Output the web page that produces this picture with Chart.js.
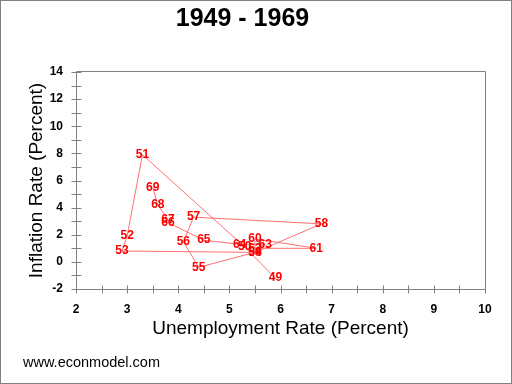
<!DOCTYPE html>
<html>
<head>
<meta charset="utf-8">
<script src="https://cdn.jsdelivr.net/npm/chart.js@4/dist/chart.umd.min.js"></script>
<style>
  html, body { margin: 0; padding: 0; background: #ffffff; }
  canvas { display: block; }
</style>
</head>
<body>
<canvas id="c" width="512" height="384"></canvas>
<script>
const years = ['49','50','51','52','53','54','55','56','57','58','59','60','61','62','63','64','65','66','67','68','69'];
const unemployment = [5.9, 5.3, 3.3, 3.0, 2.9, 5.5, 4.4, 4.1, 4.3, 6.8, 5.5, 5.5, 6.7, 5.5, 5.7, 5.2, 4.5, 3.8, 3.8, 3.6, 3.5];
const inflation = [-1.2, 1.1, 7.9, 1.9, 0.8, 0.7, -0.4, 1.5, 3.3, 2.8, 0.7, 1.7, 1.0, 1.0, 1.3, 1.3, 1.6, 2.9, 3.1, 4.2, 5.5];
const xTicks = [2, 3, 4, 5, 6, 7, 8, 9, 10];
const yTicks = [-2, 0, 2, 4, 6, 8, 10, 12, 14];

const FONT = '"Liberation Sans", Arial, Helvetica, sans-serif';
const GRAY = '#808080';

const points = unemployment.map((u, i) => ({ x: u, y: inflation[i] }));

const decorPlugin = {
  id: 'decor',
  beforeDraw(chart) {
    const ctx = chart.ctx;
    ctx.save();
    ctx.fillStyle = '#ffffff';
    ctx.fillRect(0, 0, chart.width, chart.height);
    ctx.restore();
  },
  afterDraw(chart) {
    const ctx = chart.ctx;
    const a = chart.chartArea;
    const xs = chart.scales.x, ys = chart.scales.y;
    ctx.save();
    ctx.strokeStyle = GRAY;
    ctx.lineWidth = 1;
    const L = Math.round(a.left) + 0.5, R = Math.round(a.right) + 0.5;
    const T = Math.round(a.top) - 0.5, B = Math.round(a.bottom) + 0.5;
    ctx.beginPath();
    ctx.rect(L, T, R - L, B - T);
    ctx.stroke();
    ctx.beginPath();
    for (let v = xs.min; v <= xs.max + 1e-9; v += 0.5) {
      const px = Math.round(xs.getPixelForValue(v)) + 0.5;
      ctx.moveTo(px, B - 4);
      ctx.lineTo(px, B + 4);
    }
    for (let v = ys.min; v <= ys.max + 1e-9; v += 1) {
      const py = Math.round(ys.getPixelForValue(v)) + 0.5;
      ctx.moveTo(L - 5, py);
      ctx.lineTo(L + 5, py);
    }
    ctx.stroke();
    ctx.fillStyle = '#000000';
    ctx.font = '14.5px ' + FONT;
    ctx.textAlign = 'left';
    ctx.textBaseline = 'alphabetic';
    ctx.fillText('www.econmodel.com', 23, 367);
    ctx.strokeStyle = GRAY;
    ctx.strokeRect(0.5, 0.5, chart.width - 1, chart.height - 1);
    ctx.restore();
  },
  afterDatasetsDraw(chart) {
    const ctx = chart.ctx;
    const meta = chart.getDatasetMeta(0);
    ctx.save();
    ctx.fillStyle = '#ff0000';
    ctx.font = 'bold 12px ' + FONT;
    ctx.textAlign = 'center';
    ctx.textBaseline = 'middle';
    meta.data.forEach((el, i) => {
      ctx.fillText(years[i], el.x, el.y);
    });
    ctx.restore();
  }
};

new Chart(document.getElementById('c'), {
  type: 'scatter',
  data: {
    datasets: [{
      data: points,
      showLine: true,
      borderColor: '#ff7070',
      borderWidth: 1,
      pointRadius: 0,
      pointHoverRadius: 0,
      tension: 0,
      fill: false
    }]
  },
  options: {
    responsive: false,
    maintainAspectRatio: false,
    animation: false,
    devicePixelRatio: 1,
    events: [],
    layout: { padding: { left: 0, right: 27, top: 0, bottom: 0 } },
    plugins: {
      legend: { display: false },
      tooltip: { enabled: false },
      title: {
        display: true,
        text: '1949 - 1969',
        color: '#000000',
        font: { family: FONT, size: 25, weight: 'bold', lineHeight: 1.2 },
        padding: { top: 4.5, bottom: 37.5 }
      }
    },
    scales: {
      x: {
        type: 'linear',
        min: 2, max: 10,
        afterFit(scale) { scale.height = 95; },
        afterBuildTicks(scale) { scale.ticks = xTicks.map(v => ({ value: v })); },
        grid: { display: false, drawTicks: false },
        border: { display: false },
        ticks: {
          color: '#000000',
          padding: 13,
          maxRotation: 0,
          font: { family: FONT, size: 12, weight: 'bold' }
        },
        title: {
          display: true,
          text: 'Unemployment Rate (Percent)',
          color: '#000000',
          font: { family: FONT, size: 19, lineHeight: 1.2 },
          padding: { top: 0, bottom: 44 }
        }
      },
      y: {
        type: 'linear',
        min: -2, max: 14,
        afterFit(scale) { scale.width = 76; },
        afterBuildTicks(scale) { scale.ticks = yTicks.map(v => ({ value: v })); },
        grid: { display: false, drawTicks: false },
        border: { display: false },
        ticks: {
          color: '#000000',
          padding: 13,
          font: { family: FONT, size: 12, weight: 'bold' }
        },
        title: {
          display: true,
          text: 'Inflation Rate (Percent)',
          color: '#000000',
          font: { family: FONT, size: 19, lineHeight: 1.2 },
          padding: { top: 25, bottom: 0 }
        }
      }
    }
  },
  plugins: [decorPlugin]
});
</script>
</body>
</html>
